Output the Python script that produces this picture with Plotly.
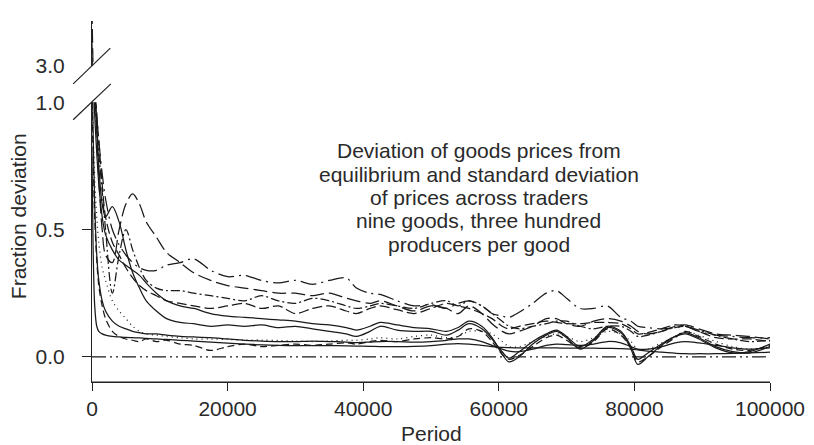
import plotly.graph_objects as go

# Sampling periods shared by every series
period = [0, 150, 400, 700, 1000, 1500, 2000, 3000, 4000, 5000,
          6000, 7000, 8000, 9500, 11000, 13000, 15000, 17500, 20000, 22500,
          25000, 27500, 30000, 32500, 35000, 37500, 39000, 41000, 42500, 45000,
          47500, 50000, 52300, 54000, 55600, 57500, 59000, 60500, 61500, 63000,
          65000, 67000, 68500, 70000, 72000, 74000, 76000, 78000, 79500, 80500,
          82000, 84000, 86000, 87500, 89500, 92000, 94500, 97000, 100000]

dev_a = [0.8, 0.45, 0.2, 0.12, 0.1, 0.09, 0.085, 0.08, 0.078, 0.076,
         0.075, 0.074, 0.072, 0.07, 0.068, 0.065, 0.062, 0.058, 0.054, 0.05,
         0.047, 0.045, 0.044, 0.044, 0.044, 0.043, 0.042, 0.041, 0.04, 0.04,
         0.041, 0.044, 0.05, 0.052, 0.05, 0.045, 0.04, 0.037, 0.036, 0.035,
         0.035, 0.035, 0.035, 0.034, 0.034, 0.034, 0.033, 0.032, 0.03, 0.027,
         0.022, 0.018, 0.014, 0.012, 0.012, 0.012, 0.013, 0.015, 0.018]

dev_b = [1.6, 1.3, 1.05, 0.9, 0.75, 0.6, 0.55, 0.59, 0.53, 0.42,
         0.33, 0.27, 0.22, 0.18, 0.15, 0.135, 0.13, 0.12, 0.125, 0.12,
         0.125, 0.115, 0.12, 0.11, 0.1, 0.09, 0.08, 0.1, 0.12, 0.105,
         0.1, 0.1, 0.085, 0.105, 0.13, 0.11, 0.07, 0.02, -0.005, 0.02,
         0.06, 0.09, 0.105, 0.08, 0.04, 0.07, 0.12, 0.1, 0.04, -0.01,
         0.015, 0.05, 0.08, 0.09, 0.07, 0.035, 0.015, 0.02, 0.05]

dev_c = [1.2, 0.9, 0.6, 0.4, 0.3, 0.22, 0.18, 0.14, 0.12, 0.11,
         0.1, 0.095, 0.09, 0.09, 0.085, 0.08, 0.078, 0.075, 0.07, 0.065,
         0.062, 0.06, 0.06, 0.062, 0.06, 0.058, 0.056, 0.058, 0.06, 0.06,
         0.058, 0.06, 0.065, 0.07, 0.07, 0.06, 0.045, 0.03, 0.022, 0.02,
         0.03, 0.045, 0.05, 0.048, 0.045, 0.05, 0.06, 0.055, 0.04, 0.03,
         0.03, 0.04, 0.055, 0.06, 0.055, 0.045, 0.035, 0.03, 0.035]

dev_d = [1.3, 1.1, 0.95, 0.8, 0.68, 0.55, 0.48, 0.42, 0.38, 0.36,
         0.34, 0.32, 0.29, 0.25, 0.22, 0.2, 0.19, 0.17, 0.16, 0.155,
         0.15, 0.145, 0.14, 0.13, 0.125, 0.115, 0.105, 0.12, 0.135, 0.125,
         0.115, 0.11, 0.1, 0.115, 0.14, 0.12, 0.075, 0.01, -0.02, 0.0,
         0.05, 0.085, 0.1, 0.075, 0.03, 0.065, 0.115, 0.095, 0.03, -0.03,
         0.0, 0.045, 0.08, 0.095, 0.075, 0.04, 0.02, 0.015, 0.04]

dev_e = [1.1, 0.9, 0.7, 0.55, 0.45, 0.35, 0.3, 0.22, 0.18, 0.15,
         0.12, 0.1, 0.09, 0.085, 0.08, 0.075, 0.07, 0.07, 0.068, 0.066,
         0.066, 0.064, 0.062, 0.06, 0.062, 0.065, 0.065, 0.07, 0.075, 0.07,
         0.08, 0.085, 0.075, 0.08, 0.1, 0.1, 0.09, 0.06, 0.04, 0.04,
         0.06, 0.08, 0.09, 0.08, 0.06, 0.075, 0.1, 0.09, 0.06, 0.03,
         0.03, 0.055, 0.08, 0.1, 0.085, 0.06, 0.04, 0.03, 0.04]

dev_f = [1.0, 0.8, 0.55, 0.38, 0.28, 0.2, 0.15, 0.1, 0.08, 0.07,
         0.065, 0.06, 0.07, 0.06, 0.065, 0.05, 0.045, 0.025, 0.04, 0.05,
         0.04, 0.045, 0.05, 0.045, 0.05, 0.055, 0.05, 0.06, 0.065, 0.06,
         0.07, 0.075, 0.07, 0.08, 0.11, 0.1, 0.06, 0.01, -0.01, 0.005,
         0.04, 0.075, 0.085, 0.065, 0.035, 0.06, 0.11, 0.085, 0.035, -0.02,
         0.0, 0.04, 0.075, 0.1, 0.08, 0.05, 0.03, 0.025, 0.045]

dev_g = [3.6, 2.0, 1.1, 0.95, 0.85, 0.68, 0.55, 0.45, 0.4, 0.35,
         0.31, 0.28, 0.26, 0.24, 0.22, 0.21, 0.2, 0.19, 0.2, 0.21,
         0.19, 0.2, 0.17, 0.19, 0.2, 0.18, 0.17, 0.19, 0.2, 0.185,
         0.17, 0.19, 0.21, 0.2, 0.19, 0.17, 0.15, 0.12, 0.11, 0.12,
         0.13, 0.14, 0.135, 0.13, 0.13, 0.135, 0.135, 0.13, 0.11, 0.09,
         0.095, 0.11, 0.125, 0.12, 0.1, 0.075, 0.07, 0.07, 0.06]

dev_h = [2.5, 1.6, 1.1, 0.95, 0.85, 0.72, 0.62, 0.5, 0.44, 0.4,
         0.37, 0.35, 0.34, 0.34, 0.36, 0.37, 0.385, 0.34, 0.315, 0.32,
         0.3, 0.29, 0.3, 0.285, 0.3, 0.31, 0.27, 0.25, 0.245, 0.22,
         0.2, 0.205, 0.19, 0.21, 0.22, 0.2, 0.17, 0.16, 0.155, 0.175,
         0.21, 0.25, 0.26, 0.23, 0.19, 0.19, 0.2, 0.155, 0.14, 0.12,
         0.115, 0.11, 0.115, 0.12, 0.1, 0.085, 0.08, 0.075, 0.075]

dev_i = [1.4, 1.15, 1.0, 0.9, 0.8, 0.65, 0.5, 0.25, 0.4, 0.5,
         0.42, 0.35, 0.3, 0.27, 0.26, 0.26, 0.25, 0.24, 0.23, 0.22,
         0.24, 0.22, 0.21, 0.23, 0.22, 0.2, 0.19, 0.2, 0.21, 0.2,
         0.19, 0.21, 0.22, 0.2, 0.22, 0.2, 0.17, 0.14, 0.12, 0.11,
         0.12, 0.13, 0.14, 0.14, 0.12, 0.11, 0.12, 0.12, 0.1, 0.08,
         0.085, 0.1, 0.115, 0.12, 0.105, 0.085, 0.07, 0.06, 0.065]

dev_j = [4.5, 3.0, 1.2, 0.9, 0.7, 0.5, 0.4, 0.37, 0.5, 0.6,
         0.64, 0.6, 0.53, 0.47, 0.41, 0.37, 0.33, 0.3, 0.28, 0.27,
         0.26, 0.25, 0.25, 0.24, 0.25, 0.23, 0.22, 0.21, 0.22, 0.2,
         0.18, 0.2, 0.19, 0.17, 0.2, 0.17, 0.13, 0.1, 0.09, 0.1,
         0.12, 0.15, 0.15, 0.13, 0.12, 0.14, 0.15, 0.14, 0.12, 0.1,
         0.09, 0.1, 0.12, 0.125, 0.11, 0.09, 0.085, 0.08, 0.07]

# Equilibrium reference
eq_period = [0, 100000]
eq_value = [0.0, 0.0]

x_ticks = [0, 20000, 40000, 60000, 80000, 100000]
x_labels = ["0", "20000", "40000", "60000", "80000", "100000"]
y_ticks = [0.0, 0.5, 1.0]
y_labels = ["0.0", "0.5", "1.0"]
y_top_ticks = [3.0]
y_top_labels = ["3.0"]

note_lines = ["Deviation of goods prices from",
              "equilibrium and standard deviation",
              "of prices across traders",
              "nine goods, three hundred",
              "producers per good"]

INK = "#1a1a1a"
TXT = "#2a2a2a"
FONT = "Liberation Sans, Arial, Helvetica, sans-serif"

series = [
    (dev_a, "solid"),
    (dev_c, "solid"),
    (dev_b, "solid"),
    (dev_d, "solid"),
    (dev_e, "1px,4px"),
    (dev_f, "7px,4px"),
    (dev_g, "10px,4px"),
    (dev_i, "9px,3px,2px,3px"),
    (dev_j, "14px,5px"),
    (dev_h, "16px,5px,2px,5px"),
]

fig = go.Figure()
for vals, dash in series:
    assert len(vals) == len(period)
    for yax in ("y", "y2"):
        fig.add_trace(go.Scatter(
            x=period, y=vals, mode="lines", yaxis=yax,
            line=dict(color=INK, width=1.25, dash=dash, shape="spline", smoothing=0.9),
            showlegend=False, hoverinfo="skip"))

fig.add_trace(go.Scatter(
    x=eq_period, y=eq_value, mode="lines",
    line=dict(color=INK, width=1.2, dash="14px,4px,2px,4px,2px,4px"),
    showlegend=False, hoverinfo="skip"))

W, H = 814, 445
ML, MR, MT, MB = 92, 38, 9, 63
PW, PH = W - ML - MR, H - MT - MB


def px_x(p):
    return (p - ML) / PW


def px_y(p):
    return (H - MB - p) / PH


low_top = px_y(93)
up_bottom = px_y(55)

fig.update_layout(
    width=W, height=H,
    margin=dict(l=ML, r=MR, t=MT, b=MB),
    paper_bgcolor="white", plot_bgcolor="white",
    font=dict(family=FONT, size=21, color=TXT),
    xaxis=dict(range=[0, 100000], tickmode="array", tickvals=x_ticks, ticktext=x_labels,
               showline=True, linecolor="#222", linewidth=1.2, ticks="outside", ticklen=8,
               tickcolor="#222", tickwidth=1.2, showgrid=False, zeroline=False, anchor="y",
               tickfont=dict(size=21, color=TXT)),
    yaxis=dict(domain=[0, low_top], range=[-0.099, 1.0], tickmode="array",
               tickvals=y_ticks, ticktext=y_labels, ticks="", ticklabelstandoff=22,
               minor=dict(tickmode="array", tickvals=[0.0, 0.5], ticks="outside",
                          ticklen=9, tickcolor="#222", tickwidth=1.2),
               showline=True, linecolor="#222", linewidth=1.2, showgrid=False,
               zeroline=False, tickfont=dict(size=21, color=TXT)),
    yaxis2=dict(domain=[up_bottom, 1], range=[3.0, 4.2], tickmode="array",
                tickvals=y_top_ticks, ticktext=y_top_labels, ticks="", ticklabelstandoff=22,
                showline=True, linecolor="#222", linewidth=1.2, showgrid=False,
                zeroline=False, anchor="x", tickfont=dict(size=21, color=TXT)),
)

# Baseline of the period axis, drawn over the plot edge
fig.add_shape(type="line", xref="paper", yref="paper", x0=0, y0=0, x1=1, y1=0,
              line=dict(color="#222", width=1.2))

# Axis-break marks
for (x0, y0, x1, y1) in [(73, 111, 111, 74), (73, 74, 110.5, 37)]:
    fig.add_shape(type="line", xref="paper", yref="paper",
                  x0=px_x(x0), y0=px_y(y0), x1=px_x(x1), y1=px_y(y1),
                  line=dict(color="#222", width=1.2))

# Axis titles
fig.add_annotation(text="Fraction deviation", xref="paper", yref="paper",
                   x=px_x(18), y=px_y(211), textangle=-90, showarrow=False,
                   xanchor="center", yanchor="middle", font=dict(size=21, color=TXT))
fig.add_annotation(text="Period", xref="paper", yref="paper",
                   x=px_x(434), y=px_y(435), showarrow=False,
                   xanchor="center", yanchor="middle", font=dict(size=21, color=TXT))

# Explanatory note
for k, line in enumerate(note_lines):
    fig.add_annotation(text=line, xref="paper", yref="paper",
                       x=px_x(482), y=px_y(143 + 24.2 * k), showarrow=False,
                       xanchor="center", yanchor="middle", font=dict(size=21, color=TXT))

fig.write_html("out.html")
